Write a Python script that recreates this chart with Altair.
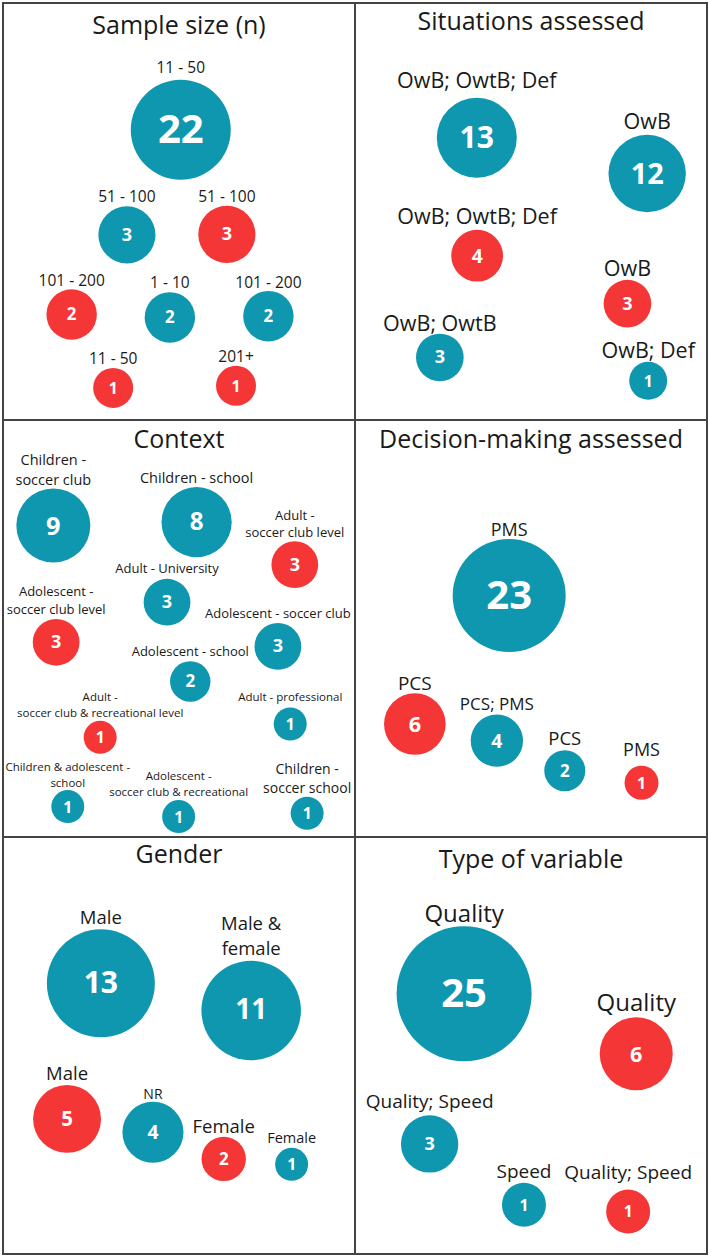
import altair as alt
import pandas as pd

TEAL = "#0f97b0"
RED = "#f43636"
FONT = "Open Sans"

PANEL_W = 352
PANEL_H = 417

# ---- Sample size (n) ----
SAMPLE_LABELS = ["11 - 50", "51 - 100", "51 - 100", "101 - 200", "1 - 10",
                 "101 - 200", "11 - 50", "201+"]
SAMPLE_COUNTS = [22, 3, 3, 2, 2, 2, 1, 1]
SAMPLE_GROUPS = ["A", "A", "B", "B", "A", "A", "B", "B"]

# ---- Situations assessed ----
SITUATION_LABELS = ["OwB; OwtB; Def", "OwB", "OwB; OwtB; Def", "OwB",
                    "OwB; OwtB", "OwB; Def"]
SITUATION_COUNTS = [13, 12, 4, 3, 3, 1]
SITUATION_GROUPS = ["A", "A", "B", "B", "A", "A"]

# ---- Context ----
CONTEXT_LABELS = ["Children -\nsoccer club", "Children - school",
                  "Adult -\nsoccer club level", "Adult - University",
                  "Adolescent -\nsoccer club level", "Adolescent - soccer club",
                  "Adolescent - school", "Adult -\nsoccer club & recreational level",
                  "Adult - professional", "Children & adolescent -\nschool",
                  "Adolescent -\nsoccer club & recreational", "Children -\nsoccer school"]
CONTEXT_COUNTS = [9, 8, 3, 3, 3, 3, 2, 1, 1, 1, 1, 1]
CONTEXT_GROUPS = ["A", "A", "B", "A", "B", "A", "A", "B", "A", "A", "A", "A"]

# ---- Decision-making assessed ----
DECISION_LABELS = ["PMS", "PCS", "PCS; PMS", "PCS", "PMS"]
DECISION_COUNTS = [23, 6, 4, 2, 1]
DECISION_GROUPS = ["A", "B", "A", "A", "B"]

# ---- Gender ----
GENDER_LABELS = ["Male", "Male &\nfemale", "Male", "NR", "Female", "Female"]
GENDER_COUNTS = [13, 11, 5, 4, 2, 1]
GENDER_GROUPS = ["A", "A", "B", "A", "B", "A"]

# ---- Type of variable ----
VARIABLE_LABELS = ["Quality", "Quality", "Quality; Speed", "Speed", "Quality; Speed"]
VARIABLE_COUNTS = [25, 6, 3, 1, 1]
VARIABLE_GROUPS = ["A", "B", "A", "A", "B"]

# Bubble layout inside each panel (0-100 across, 0-100 down), label type size
# and the space left between a label and its bubble
SAMPLE_LAYOUT_X = [50.5, 35.2, 63.6, 19.5, 47.4, 75.4, 31.3, 66.2]
SAMPLE_LAYOUT_Y = [30.4, 55.6, 55.5, 74.7, 75.4, 75.1, 92.3, 91.8]
SAMPLE_LABEL_PT = [15.5] * 8
SAMPLE_LABEL_GAP = [7, 4, 4, 3, 4, 3, 4, 4]

SITUATION_LAYOUT_X = [34.6, 83.0, 34.7, 77.4, 24.1, 83.3]
SITUATION_LAYOUT_Y = [32.3, 40.9, 60.6, 72.1, 85.0, 90.6]
SITUATION_LABEL_PT = [21.5] * 6
SITUATION_LABEL_GAP = [10, 6, 6, 4, 3, 4]

CONTEXT_LAYOUT_X = [14.3, 55.0, 82.9, 46.6, 15.1, 78.1, 53.2, 27.6, 81.6, 18.4, 49.9, 86.4]
CONTEXT_LAYOUT_Y = [25.3, 24.5, 34.7, 43.7, 53.3, 54.3, 62.7, 76.1, 72.9, 92.7, 95.1, 94.3]
CONTEXT_LABEL_PT = [14.5, 14.5, 13, 13, 13, 13, 13, 11.5, 11.5, 11.5, 11.5, 14]
CONTEXT_LABEL_GAP = [4, 4, 4, 6, 5, 5, 5, 4, 6, 3, 4, 4]

DECISION_LAYOUT_X = [43.8, 17.0, 40.3, 59.6, 81.4]
DECISION_LAYOUT_Y = [42.1, 72.9, 76.9, 84.1, 87.0]
DECISION_LABEL_PT = [18, 19, 17, 18.5, 18]
DECISION_LABEL_GAP = [3, 3, 5, 5, 10]

GENDER_LAYOUT_X = [27.8, 70.5, 18.2, 42.6, 62.7, 82.0]
GENDER_LAYOUT_Y = [35.1, 41.6, 67.6, 70.8, 77.2, 78.5]
GENDER_LABEL_PT = [18.5, 18.5, 18.5, 14, 18.5, 14.5]
GENDER_LABEL_GAP = [5, 6, 5, 3, 4, 5]

VARIABLE_LAYOUT_X = [31.0, 79.9, 21.2, 48.0, 77.6]
VARIABLE_LAYOUT_Y = [37.6, 52.0, 73.6, 88.2, 89.8]
VARIABLE_LABEL_PT = [24, 24, 19, 19, 19]
VARIABLE_LABEL_GAP = [4, 6, 7, 5, 10]

X_SCALE = alt.Scale(domain=[0, 100])
Y_SCALE = alt.Scale(domain=[100, 0])
COLOR = alt.Color("group:N", scale=alt.Scale(domain=["A", "B"], range=[TEAL, RED]),
                  legend=None)


def bubble_panel(title, labels, counts, groups, xs, ys, label_pt, label_gap,
                 d_min, d_max, curve="linear", title_y=30):
    """One boxed panel: bubbles sized by count, count inside, label above."""
    top_line = [s.split("\n")[0] if "\n" in s else "" for s in labels]
    bottom_line = [s.split("\n")[-1] for s in labels]
    df = pd.DataFrame({
        "label_top": top_line, "label_bottom": bottom_line,
        "n": counts, "group": groups, "x": xs, "y": ys,
        "lpt": label_pt, "gap": label_gap,
    })
    if curve == "sqrt":
        t_expr = "(sqrt(datum.n) - 1) / (sqrt(datum.nmax) - 1)"
    else:
        t_expr = "(datum.n - 1) / (datum.nmax - 1)"
    a0, a1 = d_min ** 2, d_max ** 2
    base = alt.Chart(df).transform_joinaggregate(
        nmax="max(n)"
    ).transform_calculate(
        t=t_expr
    ).transform_calculate(
        area=f"{a0} + ({a1} - {a0}) * datum.t"
    ).transform_calculate(
        r="sqrt(datum.area) / 2",
        num_pt="min(40, 14.5 + 1.2 * datum.n)",
    ).transform_calculate(
        label_y=f"datum.y - (datum.r + datum.gap) * 100 / {PANEL_H}"
    ).transform_calculate(
        top_y=f"datum.label_y - datum.lpt * 1.36 * 100 / {PANEL_H}"
    )
    x = alt.X("x:Q", scale=X_SCALE, axis=None)

    bubbles = base.mark_circle(opacity=1, strokeWidth=0).encode(
        x=x, y=alt.Y("y:Q", scale=Y_SCALE, axis=None),
        size=alt.Size("area:Q", scale=None), color=COLOR,
    )
    numbers = base.mark_text(font=FONT, fontWeight="bold", color="white",
                             align="center", baseline="middle", dy=1).encode(
        x=x, y=alt.Y("y:Q", scale=Y_SCALE, axis=None),
        text="n:Q", size=alt.Size("num_pt:Q", scale=None),
    )
    lower = base.mark_text(font=FONT, color="#1a1a1a", align="center",
                           baseline="alphabetic").encode(
        x=x, y=alt.Y("label_y:Q", scale=Y_SCALE, axis=None),
        text="label_bottom:N", size=alt.Size("lpt:Q", scale=None),
    )
    upper = base.mark_text(font=FONT, color="#1a1a1a", align="center",
                           baseline="alphabetic").encode(
        x=x, y=alt.Y("top_y:Q", scale=Y_SCALE, axis=None),
        text="label_top:N", size=alt.Size("lpt:Q", scale=None),
    )
    heading = alt.Chart(pd.DataFrame({"title": [title]})).mark_text(
        font=FONT, fontSize=25, color="#1a1a1a", align="center", baseline="alphabetic"
    ).encode(text="title:N", x=alt.value(PANEL_W / 2), y=alt.value(title_y))

    return alt.layer(bubbles, numbers, lower, upper, heading).properties(
        width=PANEL_W, height=PANEL_H
    )


p_sample = bubble_panel("Sample size (n)", SAMPLE_LABELS, SAMPLE_COUNTS, SAMPLE_GROUPS,
                        SAMPLE_LAYOUT_X, SAMPLE_LAYOUT_Y, SAMPLE_LABEL_PT,
                        SAMPLE_LABEL_GAP, 40, 100, "sqrt", title_y=31)
p_situation = bubble_panel("Situations assessed", SITUATION_LABELS, SITUATION_COUNTS,
                           SITUATION_GROUPS, SITUATION_LAYOUT_X, SITUATION_LAYOUT_Y,
                           SITUATION_LABEL_PT, SITUATION_LABEL_GAP, 38, 80, title_y=27)
p_context = bubble_panel("Context", CONTEXT_LABELS, CONTEXT_COUNTS, CONTEXT_GROUPS,
                         CONTEXT_LAYOUT_X, CONTEXT_LAYOUT_Y, CONTEXT_LABEL_PT,
                         CONTEXT_LABEL_GAP, 33, 74, title_y=28)
p_decision = bubble_panel("Decision-making assessed", DECISION_LABELS, DECISION_COUNTS,
                          DECISION_GROUPS, DECISION_LAYOUT_X, DECISION_LAYOUT_Y,
                          DECISION_LABEL_PT, DECISION_LABEL_GAP, 34, 113, title_y=28)
p_gender = bubble_panel("Gender", GENDER_LABELS, GENDER_COUNTS, GENDER_GROUPS,
                        GENDER_LAYOUT_X, GENDER_LAYOUT_Y, GENDER_LABEL_PT,
                        GENDER_LABEL_GAP, 33, 108, title_y=26)
p_variable = bubble_panel("Type of variable", VARIABLE_LABELS, VARIABLE_COUNTS,
                          VARIABLE_GROUPS, VARIABLE_LAYOUT_X, VARIABLE_LAYOUT_Y,
                          VARIABLE_LABEL_PT, VARIABLE_LABEL_GAP, 44, 135, title_y=31)

chart = alt.concat(
    p_sample, p_situation, p_context, p_decision, p_gender, p_variable,
    columns=2, spacing=0, bounds="flush",
).properties(
    padding={"left": 2, "top": 2, "right": 1, "bottom": 1},
    background="white",
).configure_view(
    stroke="#444444", strokeWidth=2, fill="white"
)

chart.save("out.html", embed_options={"renderer": "svg", "actions": False})
